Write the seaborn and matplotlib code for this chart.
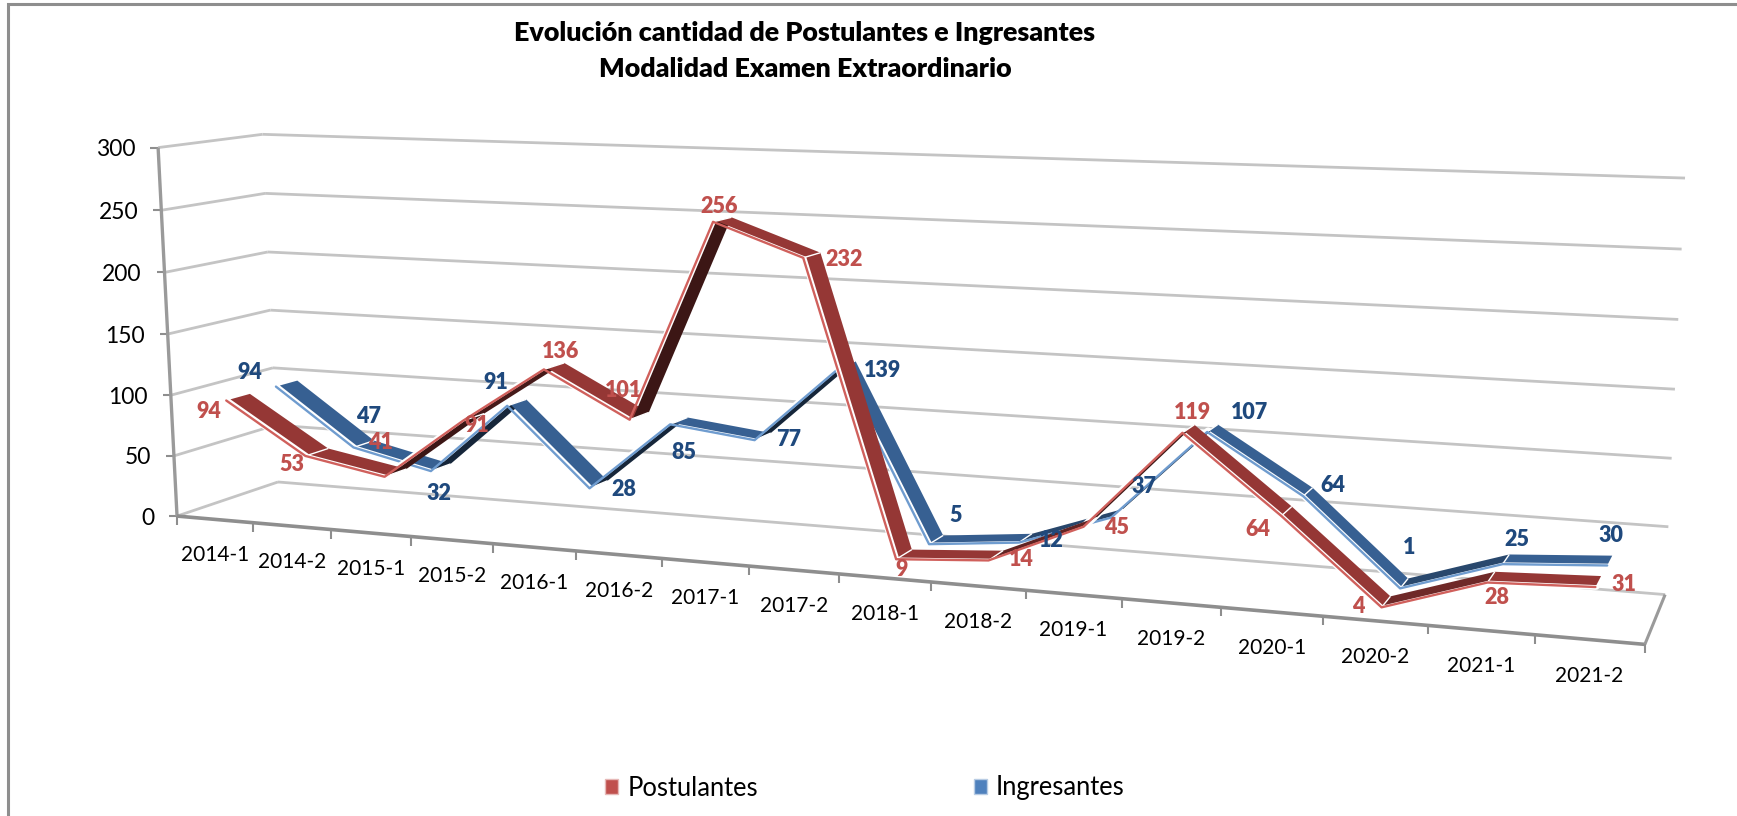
import numpy as np
import pandas as pd
import matplotlib
matplotlib.use("Agg")
import matplotlib.pyplot as plt
import matplotlib.transforms as mtrans
from matplotlib.patches import Patch
from matplotlib.colors import to_rgb
import seaborn as sns

# ---------- data ----------
periodos = ["2014-1", "2014-2", "2015-1", "2015-2", "2016-1", "2016-2", "2017-1", "2017-2",
            "2018-1", "2018-2", "2019-1", "2019-2", "2020-1", "2020-2", "2021-1", "2021-2"]
postulantes = [94, 53, 41, 91, 136, 101, 256, 232, 9, 14, 45, 119, 64, 4, 28, 31]
ingresantes = [94, 47, 32, 91, 28, 85, 77, 139, 5, 12, 37, 107, 64, 1, 25, 30]
valores_eje = [0, 50, 100, 150, 200, 250, 300]

titulo = "Evolución cantidad de Postulantes e Ingresantes\nModalidad Examen Extraordinario"

# ---------- label offsets in pixels (dx right, dy down) ----------
off_post = [(-17, 11), (-14, 9), (-4, -34), (14, 5), (17, -18), (-6, -29), (6, -15), (41, 2),
            (5, 10), (33, -1), (33, 1), (10, -20), (-23, 14), (-23, -1), (9, 15), (29, -3)]
off_ingr = [(-26, -14), (15, -31), (8, 22), (-11, -23), (34, 1), (14, 28), (34, -1), (42, 3),
            (27, -29), (33, -2), (33, -31), (42, -19), (30, -11), (9, -41), (14, -25), (4, -30)]

# ---------- perspective calibration of the 3D box: (category, depth, value) -> pixel ----------
caja_3d = np.array([(0, 0, 0), (0, 0, 300), (0, 1, 0), (0, 1, 300), (16, 1, 0), (16, 1, 300), (16, 0, 0)], float)
caja_px = np.array([(177, 516), (158, 148), (278, 482), (262.6, 134), (1665, 595), (1685, 178), (1645, 644)], float)


def ajustar(X, U):
    A = []
    for (a, b, c), (u, v) in zip(X, U):
        p = [a / 16, b, c / 300, 1]
        A.append(p + [0, 0, 0, 0] + [-u * q for q in p])
        A.append([0, 0, 0, 0] + p + [-v * q for q in p])
    return np.linalg.svd(np.array(A))[2][-1].reshape(3, 4)


H = ajustar(caja_3d, caja_px)


def P(i, d, v):
    i, d, v = np.broadcast_arrays(np.asarray(i, float), np.asarray(d, float), np.asarray(v, float))
    h = np.stack([i / 16, d, v / 300, np.ones_like(i)], axis=-1) @ H.T
    return h[..., :2] / h[..., 2:]


class Proyeccion(mtrans.Transform):
    input_dims = 2
    output_dims = 2
    is_separable = False
    has_inverse = False

    def __init__(self, d):
        super().__init__()
        self.d = d

    def transform_non_affine(self, xy):
        xy = np.asarray(xy, float)
        return P(xy[:, 0], self.d, xy[:, 1])


sns.set_theme(style="white")
plt.rcParams["font.family"] = ["Lato", "DejaVu Sans"]

fig = plt.figure(figsize=(17.37, 8.16), dpi=100, facecolor="white")
ax = fig.add_axes([0, 0, 1, 1])
ax.set_xlim(0, 1737)
ax.set_ylim(816, 0)
ax.set_axis_off()


def T(d):
    return Proyeccion(d) + ax.transData


def seg(p, q, **kw):
    ax.plot([p[0], q[0]], [p[1], q[1]], solid_capstyle="butt", **kw)


# chart frame
ax.plot([8, 8, 1737], [816, 4, 4], color="#8e8e8e", lw=2.2, solid_joinstyle="miter", zorder=1)

# gridlines
GRID = "#c4c4c4"
for v in valores_eje:
    seg(P(0, 0, v), P(0, 1, v), color=GRID, lw=2, zorder=2)
    seg(P(0, 1, v), P(16, 1, v), color=GRID, lw=2, zorder=2)
    a = P(0, 0, v)
    seg(a, a + np.array([-8, 0]), color="#8e8e8e", lw=1.5, zorder=2)
    ax.annotate(str(v), xy=(0, v), xycoords=T(0), xytext=(-23, -2), textcoords="offset pixels",
                ha="right", va="center", fontsize=16.5, color="black", zorder=6)

# walls and floor edges
seg(P(0, 0, 0), P(0, 0, 300), color="#9a9a9a", lw=2.4, zorder=3)
seg(P(0, 0, 0), P(16, 0, 0), color="#8e8e8e", lw=2.6, zorder=3)
seg(P(16, 0, 0), P(16, 1, 0), color="#9a9a9a", lw=2.2, zorder=3)
for i in range(17):
    a = P(i, 0, 0)
    seg(a, a + np.array([0, 9]), color="#8e8e8e", lw=1.5, zorder=3)
for i, t in enumerate(periodos):
    ax.annotate(t, xy=(i + 0.5, 0), xycoords=T(0), xytext=(0, -36), textcoords="offset pixels",
                ha="center", va="center", fontsize=15, color="black", zorder=6)

# series
pos = [i + 0.5 for i in range(len(periodos))]
df = pd.DataFrame({"pos": pos, "Postulantes": postulantes, "Ingresantes": ingresantes})


def sombra(base, dv):
    k = 1 - 0.6 * min(1.0, max(0.0, dv - 5) / 45)
    return tuple(c * k for c in to_rgb(base))


def cinta(col, d_linea, d0, d1, base, claro, z, etiqueta, offs):
    vals = df[col].to_numpy(float)
    xs = df["pos"].to_numpy()
    sns.lineplot(data=df, x="pos", y=col, estimator=None, sort=False, color="white", lw=5.5,
                 transform=T((d_linea + d0) / 2), ax=ax, zorder=z, legend=False)
    for j in range(len(vals) - 1):
        quad = np.array([P(xs[j], d0, vals[j]), P(xs[j + 1], d0, vals[j + 1]),
                         P(xs[j + 1], d1, vals[j + 1]), P(xs[j], d1, vals[j])])
        ax.fill(quad[:, 0], quad[:, 1], color=sombra(base, vals[j + 1] - vals[j]), lw=0, zorder=z + 0.1)
    for j in range(1, len(vals) - 1):
        seg(P(xs[j], d_linea, vals[j]), P(xs[j], d1, vals[j]), color="white", lw=1, zorder=z + 0.2)
    sns.lineplot(data=df, x="pos", y=col, estimator=None, sort=False, color=claro, lw=1.7,
                 transform=T(d_linea), ax=ax, zorder=z + 0.3, legend=False)
    for x, v, (dx, dy) in zip(xs, vals, offs):
        ax.annotate(f"{int(v)}", xy=(x, v), xycoords=T(d_linea), xytext=(dx, -dy),
                    textcoords="offset pixels", ha="center", va="center", fontsize=15.5,
                    fontweight="heavy", color=etiqueta, zorder=7)


cinta("Ingresantes", 0.65, 0.69, 0.87, "#376092", "#6f9ccf", 4, "#1f497d", off_ingr)
cinta("Postulantes", 0.16, 0.20, 0.39, "#953735", "#d0605c", 5, "#c0504d", off_post)

ax.set_xlim(0, 1737)
ax.set_ylim(816, 0)
ax.set_xlabel("")
ax.set_ylabel("")

# title
ax.text(805, 51, titulo, ha="center", va="center", fontsize=19.4, fontweight="heavy",
        color="black", linespacing=1.58, zorder=8)

# legend
ax.legend(handles=[Patch(facecolor="#c0504d", edgecolor="#e6b8b7", label="Postulantes"),
                   Patch(facecolor="#4f81bd", edgecolor="#b8cce4", label="Ingresantes")],
          loc="center", bbox_to_anchor=(865 / 1737, 1 - 788 / 816), ncol=2, frameon=False,
          fontsize=18.4, handlelength=0.51, handleheight=0.51, handletextpad=0.35, columnspacing=8.45,
          labelcolor="black")

fig.savefig("out.png", dpi=100, facecolor="white")
